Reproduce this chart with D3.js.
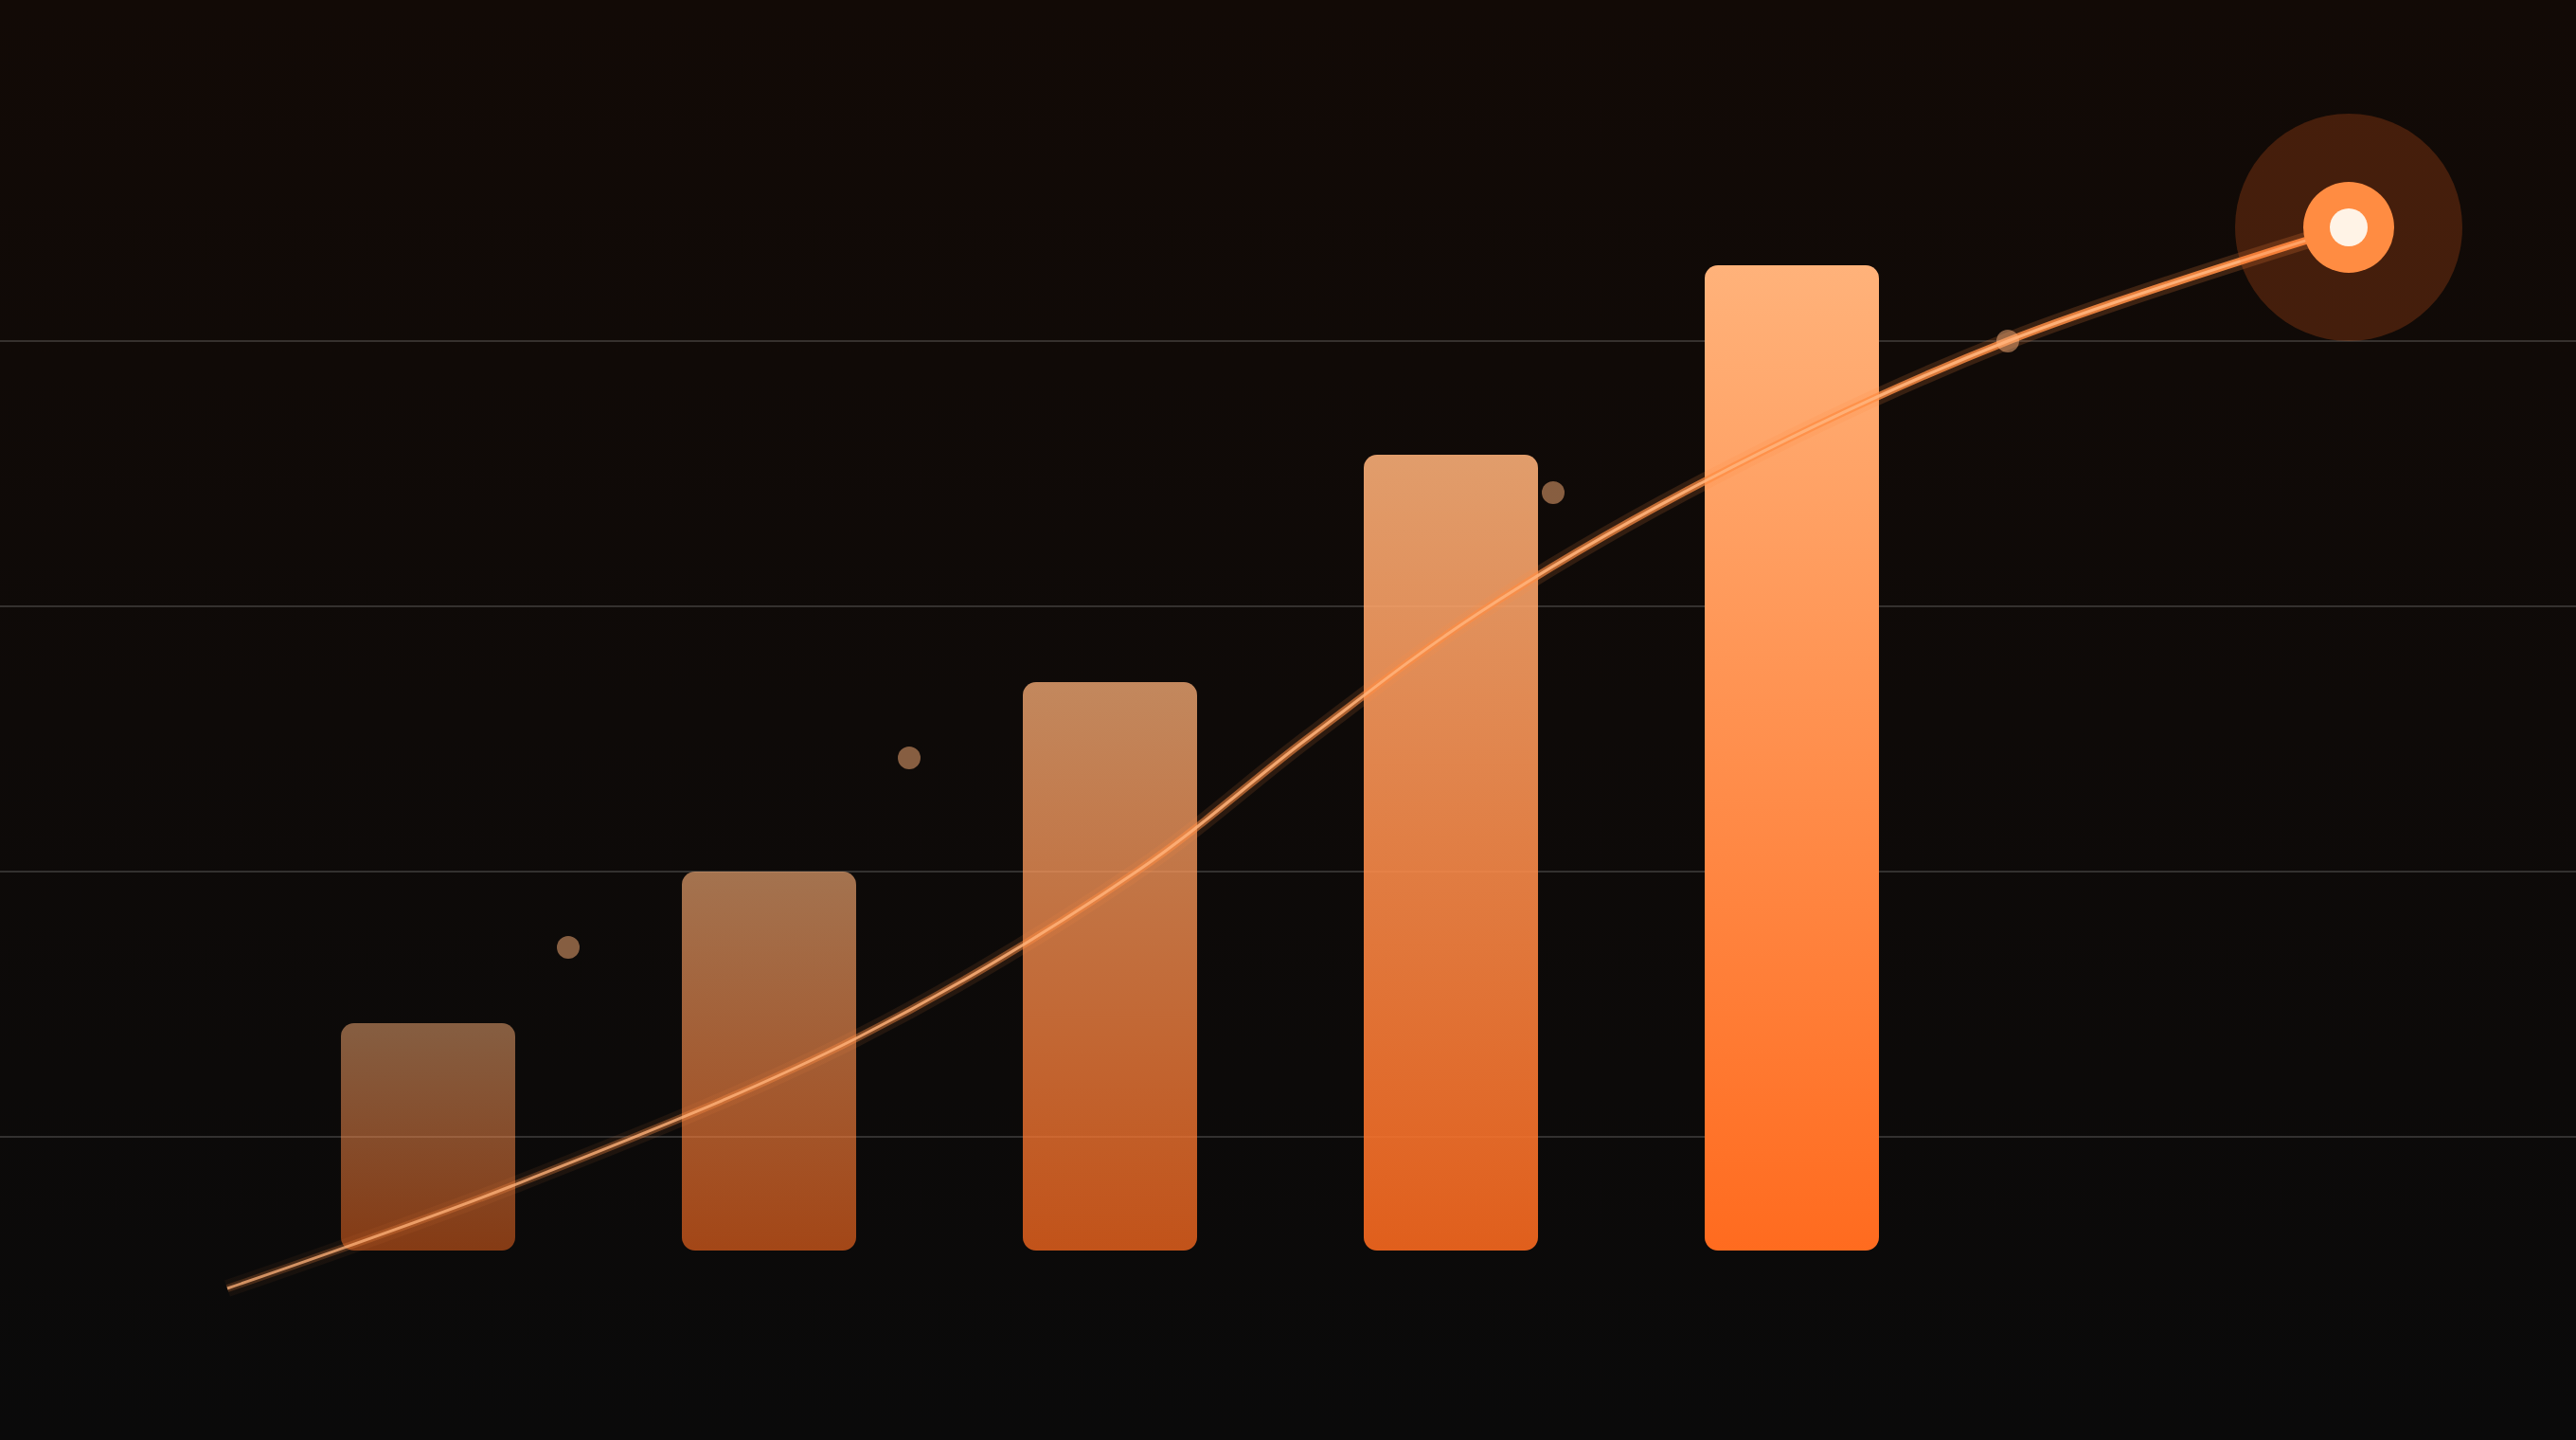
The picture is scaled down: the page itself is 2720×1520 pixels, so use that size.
<!DOCTYPE html>
<html>
<head>
<meta charset="utf-8">
<script src="https://cdn.jsdelivr.net/npm/d3@7"></script>
<style>
  html, body { margin: 0; padding: 0; background: #0a0a0a; overflow: hidden; }
  svg { display: block; }
</style>
</head>
<body>
<div id="chart"></div>
<script>
// bar categories and values (y units)
var categories = ["P1", "P2", "P3", "P4", "P5"];
var barValues = [6, 10, 15, 21, 26];

// trend line (x units, y units)
var lineX = [0, 7.5, 16.6, 24, 28.5, 33, 39, 47, 56];
var lineY = [-1, 1.7, 5.6, 10, 13.5, 16.8, 20.3, 24, 27];

// loose marker dots
var dotX = [9, 18, 35, 47];
var dotY = [8, 13, 20, 24];

// horizontal guide lines
var gridTicks = [3, 10, 17, 24];

var width = 2720,
    height = 1520;

var svg = d3.select("#chart")
    .append("svg")
    .attr("width", width)
    .attr("height", height);

var defs = svg.append("defs");

// background
var bg = defs.append("linearGradient")
    .attr("id", "bg")
    .attr("x1", 0).attr("y1", 0).attr("x2", 0).attr("y2", 1);
bg.append("stop").attr("offset", "0%").attr("stop-color", "#120a06");
bg.append("stop").attr("offset", "100%").attr("stop-color", "#0a0a0a");

svg.append("rect")
    .attr("width", width)
    .attr("height", height)
    .attr("fill", "url(#bg)");

// scales
var x = d3.scaleBand()
    .domain(categories)
    .range([180, 2164])
    .paddingInner(0.4889)
    .paddingOuter(0.5);

var y = d3.scaleLinear()
    .domain([0, 30])
    .range([1320, 120]);

var xl = d3.scaleLinear()
    .domain([0, 56])
    .range([240, 2480]);

var barOpacity = d3.scaleLinear()
    .domain([0, categories.length - 1])
    .range([0.5, 1]);

// grid
svg.append("g")
    .selectAll("line")
    .data(gridTicks)
    .enter().append("line")
    .attr("x1", 0)
    .attr("x2", width)
    .attr("y1", function (d) { return y(d); })
    .attr("y2", function (d) { return y(d); })
    .attr("stroke", "#ffffff")
    .attr("stroke-opacity", 0.16)
    .attr("stroke-width", 2);

// bar gradient
var bg2 = defs.append("linearGradient")
    .attr("id", "barGrad")
    .attr("x1", 0).attr("y1", 0).attr("x2", 0).attr("y2", 1);
bg2.append("stop").attr("offset", "0%").attr("stop-color", "#ffb27a");
bg2.append("stop").attr("offset", "100%").attr("stop-color", "#ff6b1f");

svg.append("g")
    .selectAll("rect")
    .data(barValues)
    .enter().append("rect")
    .attr("x", function (d, i) { return x(categories[i]); })
    .attr("y", function (d) { return y(d); })
    .attr("width", x.bandwidth())
    .attr("height", function (d) { return y(0) - y(d); })
    .attr("rx", 14)
    .attr("fill", "url(#barGrad)")
    .attr("fill-opacity", function (d, i) { return barOpacity(i); });

// line gradients (fade in along x)
function lineGrad(id, color, o0, o1) {
    var g = defs.append("linearGradient")
        .attr("id", id)
        .attr("gradientUnits", "userSpaceOnUse")
        .attr("x1", xl(lineX[0])).attr("y1", 0)
        .attr("x2", xl(lineX[lineX.length - 1])).attr("y2", 0);
    g.append("stop").attr("offset", "0%").attr("stop-color", color).attr("stop-opacity", o0);
    g.append("stop").attr("offset", "100%").attr("stop-color", color).attr("stop-opacity", o1);
}
lineGrad("glowGrad", "#ff8c42", 0.05, 0.2);
lineGrad("outerGrad", "#ff8c42", 0.2, 0.95);
lineGrad("coreGrad", "#ffb27a", 0.75, 1);

var pts = lineX.map(function (d, i) { return [d, lineY[i]]; });

var line = d3.line()
    .x(function (d) { return xl(d[0]); })
    .y(function (d) { return y(d[1]); })
    .curve(d3.curveCatmullRom.alpha(0.5));

var lg = svg.append("g").attr("fill", "none").attr("stroke-linecap", "butt");
lg.append("path").attr("d", line(pts)).attr("stroke", "url(#glowGrad)").attr("stroke-width", 18);
lg.append("path").attr("d", line(pts)).attr("stroke", "url(#outerGrad)").attr("stroke-width", 8);
lg.append("path").attr("d", line(pts)).attr("stroke", "url(#coreGrad)").attr("stroke-width", 3);

// dots
svg.append("g")
    .selectAll("circle")
    .data(dotX)
    .enter().append("circle")
    .attr("cx", function (d) { return xl(d); })
    .attr("cy", function (d, i) { return y(dotY[i]); })
    .attr("r", 12)
    .attr("fill", "#ffb27a")
    .attr("fill-opacity", 0.5);

// end highlight
var last = pts[pts.length - 1];
var hl = svg.append("g")
    .attr("transform", "translate(" + xl(last[0]) + "," + y(last[1]) + ")");
hl.append("circle").attr("r", 120).attr("fill", "#ff6b1f").attr("fill-opacity", 0.22);
hl.append("circle").attr("r", 48).attr("fill", "#ff8c42");
hl.append("circle").attr("r", 20).attr("fill", "#fff3e6");
</script>
</body>
</html>
